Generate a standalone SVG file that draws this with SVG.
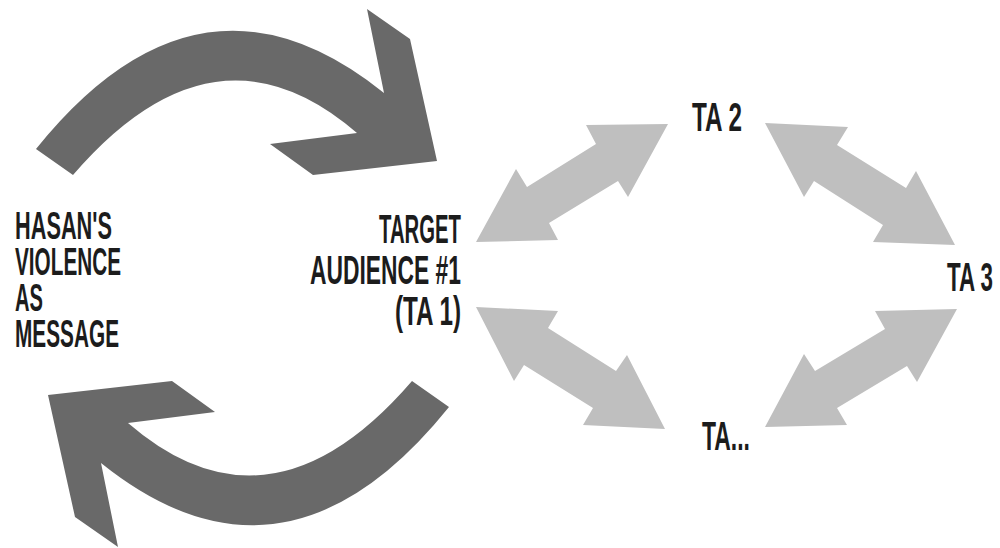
<svg xmlns="http://www.w3.org/2000/svg" xmlns:xlink="http://www.w3.org/1999/xlink" width="1000" height="548" viewBox="0 0 1000 548">
  <style>
    .lbl { font-family: "Liberation Sans", Arial, sans-serif; font-weight: bold; fill: #1c1c1c; lengthAdjust: spacingAndGlyphs; }
    .big { fill: #696969; }
    .small { fill: #bfbfbf; }
  </style>
  <defs>
    <path id="bigArrow" d="M 73,175 Q 215,10 357,133 L 270,144 L 313,175 L 437,161 L 410,39 L 367,9 L 384,93 Q 200,-55 36,149 Z"/>
  </defs>
  <rect width="1000" height="548" fill="#ffffff"/>
  <g id="connectors">
    <use xlink:href="#bigArrow" class="big"/>
    <use xlink:href="#bigArrow" class="big" transform="rotate(180 242.5 278)"/>
    <polygon class="small" points="476,242 558,240 549,223 618,181 628,197 668,124 586,125 596,144 527,187 516,169"/>
    <polygon class="small" points="765,123 848,127 837,145 906,188 916,171 955,245 873,242 883,225 814,181 804,197"/>
    <polygon class="small" points="476,307 558,311 548,328 616,371 627,355 665,429 583,425 593,408 524,365 514,381"/>
    <polygon class="small" points="765,427 847,425 837,408 907,366 917,382 957,309 875,311 885,329 815,371 804,354"/>
  </g>
  <g id="node-hasan">
    <text class="lbl" font-size="39" x="15" y="239" textLength="97" lengthAdjust="spacingAndGlyphs">HASAN'S</text>
    <text class="lbl" font-size="39" x="15" y="275" textLength="106" lengthAdjust="spacingAndGlyphs">VIOLENCE</text>
    <text class="lbl" font-size="39" x="15" y="311" textLength="28" lengthAdjust="spacingAndGlyphs">AS</text>
    <text class="lbl" font-size="39" x="15" y="347" textLength="104" lengthAdjust="spacingAndGlyphs">MESSAGE</text>
  </g>
  <g id="node-ta1">
    <text class="lbl" font-size="41" x="379" y="243" textLength="82" lengthAdjust="spacingAndGlyphs">TARGET</text>
    <text class="lbl" font-size="41" x="310" y="284" textLength="151" lengthAdjust="spacingAndGlyphs">AUDIENCE #1</text>
    <text class="lbl" font-size="41" x="395" y="325" textLength="66" lengthAdjust="spacingAndGlyphs">(TA 1)</text>
  </g>
  <g id="node-ta2">
    <text class="lbl" font-size="41" x="692" y="131" textLength="50" lengthAdjust="spacingAndGlyphs">TA 2</text>
  </g>
  <g id="node-ta3">
    <text class="lbl" font-size="41" x="947" y="291" textLength="46" lengthAdjust="spacingAndGlyphs">TA 3</text>
  </g>
  <g id="node-ta-more">
    <text class="lbl" font-size="41" x="702" y="450" textLength="48" lengthAdjust="spacingAndGlyphs">TA...</text>
  </g>
</svg>
